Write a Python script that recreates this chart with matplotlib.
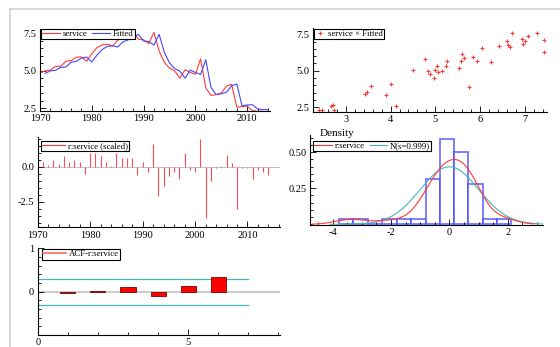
import numpy as np
import matplotlib
matplotlib.use("Agg")
import matplotlib.pyplot as plt
from matplotlib.lines import Line2D
from matplotlib.ticker import MultipleLocator, FixedLocator, FormatStrFormatter

W, H = 560, 347

# actual and fitted values
years = np.arange(1970, 2015)
service = [4.84, 5.00, 5.05, 5.30, 5.30, 5.64, 5.68, 5.91, 5.93, 5.64,
           6.14, 6.55, 6.73, 6.77, 6.66, 7.05, 7.18, 7.39, 7.57, 7.11,
           7.07, 6.82, 7.57, 6.32, 5.57, 5.18, 5.00, 4.50, 5.07, 4.90,
           4.77, 5.80, 3.86, 3.36, 3.41, 3.52, 3.98, 4.09, 2.57, 2.62,
           2.64, 2.35, 2.30, 2.30, 2.12]
fit_years = np.arange(1971, 2015)
fitted = [4.83, 5.00, 5.03, 5.23, 5.25, 5.57, 5.63, 5.85, 5.92, 5.59,
          6.05, 6.42, 6.63, 6.67, 6.59, 6.93, 7.06, 7.26, 7.43, 6.99,
          6.95, 6.72, 7.43, 6.24, 5.53, 5.15, 4.98, 4.51, 5.05, 4.89,
          4.76, 5.74, 3.90, 3.42, 3.47, 3.57, 4.01, 4.12, 2.67, 2.72,
          2.74, 2.46, 2.41, 2.41]

# scaled residuals
resid_scaled = [0.36, 0.10, 0.50, 0.17, 0.76, 0.30, 0.50, 0.30, -0.50, 1.00,
                1.00, 0.75, 0.30, 0.05, 1.00, 0.60, 0.60, 0.65, -0.60, 0.30,
                -0.35, 1.65, -2.10, -1.40, -0.70, -0.35, -0.85, 1.00, -0.25, -0.35,
                2.00, -3.65, -1.00, -0.07, 0.05, 0.85, 0.25, -3.05, -0.10, -0.07,
                -0.85, -0.25, -0.35, -0.60]

# histogram of residuals (density scale)
hist_edges = [-3.80, -3.30, -2.80, -2.30, -1.80, -1.30, -0.81,
              -0.32, 0.16, 0.65, 1.14, 1.63, 2.12]
hist_density = [0.04, 0.04, 0.0, 0.04, 0.04, 0.04, 0.315,
                0.59, 0.50, 0.28, 0.04, 0.04]
normal_sd = 0.999

# residual autocorrelations
acf_lags = [1, 2, 3, 4, 5, 6]
acf_values = [-0.04, 0.005, 0.11, -0.09, 0.14, 0.34]
acf_band = 0.30

RED = "#ff3a3a"
BLUE = "#4646ff"
TEAL = "#45b8b4"

plt.rcParams["font.family"] = ["Liberation Serif", "DejaVu Serif"]
plt.rcParams["font.size"] = 7.5
plt.rcParams["axes.unicode_minus"] = False

fig = plt.figure(figsize=(W / 100, H / 100), dpi=100)
fig.patch.set_facecolor("white")


def add_panel(x0, y0, x1, y1):
    ax = fig.add_axes([x0 / W, 1 - y1 / H, (x1 - x0) / W, (y1 - y0) / H])
    for side in ("top", "right"):
        ax.spines[side].set_visible(False)
    for side in ("left", "bottom"):
        ax.spines[side].set_linewidth(0.8)
    ax.tick_params(which="both", direction="in", width=0.6, labelsize=7.5, pad=2.5)
    ax.tick_params(which="major", length=4)
    ax.tick_params(which="minor", length=2)
    ax.patch.set_alpha(0)
    return ax


def box_legend(ax, handles, labels, x0, y0, ncol=1, hl=2.0):
    leg = ax.legend(handles, labels, loc="upper left", ncol=ncol,
                    bbox_to_anchor=(x0 / W, 1 - y0 / H), bbox_transform=fig.transFigure,
                    borderaxespad=0, fancybox=False, framealpha=1, edgecolor="black",
                    fontsize=6.3, borderpad=0.15, labelspacing=0, handlelength=hl,
                    handletextpad=0.3, columnspacing=0.6, handleheight=0.6)
    leg.get_frame().set_linewidth(0.8)
    return leg


# light frame round the graph area
fig.add_artist(Line2D([10 / W, 10 / W], [0, 1 - 9 / H], transform=fig.transFigure,
                      color="#c8d8c8", lw=1.2))
fig.add_artist(Line2D([10 / W, 1], [1 - 9 / H, 1 - 9 / H], transform=fig.transFigure,
                      color="#c8d8c8", lw=1.2))

# service and fitted over time
ax1 = add_panel(40, 29, 270, 111)
l1, = ax1.plot(years, service, color=RED, lw=0.8)
l2, = ax1.plot(fit_years, fitted, color=BLUE, lw=0.8)
ax1.set_xlim(1970, 2014.4)
ax1.set_ylim(2.32, 7.79)
ax1.xaxis.set_major_locator(MultipleLocator(10))
ax1.xaxis.set_minor_locator(MultipleLocator(2))
ax1.yaxis.set_major_locator(MultipleLocator(2.5))
ax1.yaxis.set_minor_locator(MultipleLocator(0.5))
ax1.yaxis.set_major_formatter(FormatStrFormatter("%.1f"))
box_legend(ax1, [l1, l2], ["service", "Fitted"], 41, 28.5, ncol=2)

# actual against fitted
ax2 = add_panel(313, 28, 547, 112)
p, = ax2.plot(fitted, service[1:], ls="none", marker="+", ms=2.6, mew=0.8, color=RED)
ax2.set_xlim(2.27, 7.49)
ax2.set_ylim(2.18, 7.93)
ax2.xaxis.set_major_locator(MultipleLocator(1))
ax2.xaxis.set_minor_locator(MultipleLocator(0.2))
ax2.yaxis.set_major_locator(MultipleLocator(2.5))
ax2.yaxis.set_minor_locator(MultipleLocator(0.5))
ax2.yaxis.set_major_formatter(FormatStrFormatter("%.1f"))
box_legend(ax2, [p], ["service \u00d7 Fitted"], 313.5, 28.5, hl=1.2)

# scaled residuals
ax3 = add_panel(37.7, 137, 280, 227.3)
ax3.axhline(0, color="#b8b8b8", lw=0.6, zorder=1)
ax3.vlines(fit_years, 0, resid_scaled, color="#ff4a5a", lw=0.8, zorder=2)
ax3.set_xlim(1970, 2016.2)
ax3.set_ylim(-4.33, 2.12)
ax3.xaxis.set_major_locator(MultipleLocator(10))
ax3.xaxis.set_minor_locator(MultipleLocator(2))
ax3.yaxis.set_major_locator(FixedLocator([-2.5, 0.0]))
ax3.yaxis.set_minor_locator(MultipleLocator(0.5))
ax3.yaxis.set_major_formatter(FormatStrFormatter("%.1f"))
h3 = Line2D([], [], color=RED, lw=0.8)
box_legend(ax3, [h3], ["r:service (scaled)"], 41, 140.7, hl=2.6)

# residual density with normal reference
ax4 = add_panel(310, 135, 543, 225)
edges = np.array(hist_edges)
ax4.bar(edges[:-1], hist_density, width=np.diff(edges), align="edge",
        facecolor="white", edgecolor=BLUE, lw=1.3, alpha=0.75, zorder=1)
r = np.array(resid_scaled)
grid = np.linspace(-4.7, 2.9, 300)
bw = 0.42
kde = np.exp(-0.5 * ((grid[:, None] - r[None, :]) / bw) ** 2).sum(axis=1)
kde /= len(r) * bw * np.sqrt(2 * np.pi)
k, = ax4.plot(grid, kde, color=RED, lw=0.8, zorder=3)
zg = np.linspace(-4.1, 3.2, 300)
nd = np.exp(-0.5 * (zg / normal_sd) ** 2) / (normal_sd * np.sqrt(2 * np.pi))
n, = ax4.plot(zg, nd, color=TEAL, lw=0.8, zorder=2)
ax4.set_xlim(-4.78, 3.21)
ax4.set_ylim(-0.005, 0.62)
ax4.xaxis.set_major_locator(MultipleLocator(2))
ax4.xaxis.set_minor_locator(MultipleLocator(0.5))
ax4.yaxis.set_major_locator(FixedLocator([0.25, 0.50]))
ax4.yaxis.set_minor_locator(MultipleLocator(0.05))
ax4.yaxis.set_major_formatter(FormatStrFormatter("%.2f"))
box_legend(ax4, [k, n], ["r:service", "N(s=%.3f)" % normal_sd], 313, 140.7, ncol=2)
fig.text(320 / W, 1 - 133.5 / H, "Density", fontsize=8, va="center", ha="left")

# autocorrelation of residuals
ax5 = add_panel(37.7, 248.3, 280, 335)
ax5.axhline(0, color="#cccccc", lw=1.5, zorder=1)
ax5.bar(acf_lags, acf_values, width=0.5, color="#ff0000", edgecolor="#7a0000",
        lw=0.6, zorder=3)
ax5.plot([0, 7], [acf_band, acf_band], color=TEAL, lw=0.9, zorder=2)
ax5.plot([0, 7], [-acf_band, -acf_band], color=TEAL, lw=0.9, zorder=2)
ax5.set_xlim(0, 8.05)
ax5.set_ylim(-1, 1)
ax5.xaxis.set_major_locator(FixedLocator([0, 5]))
ax5.xaxis.set_minor_locator(MultipleLocator(1))
ax5.yaxis.set_major_locator(FixedLocator([0, 1]))
ax5.yaxis.set_minor_locator(MultipleLocator(0.2))
h5 = Line2D([], [], color="#ff6a6a", lw=1.2)
box_legend(ax5, [h5], ["ACF-r:service"], 42, 249, hl=2.6)

fig.savefig("out.png", dpi=100, facecolor="white")
